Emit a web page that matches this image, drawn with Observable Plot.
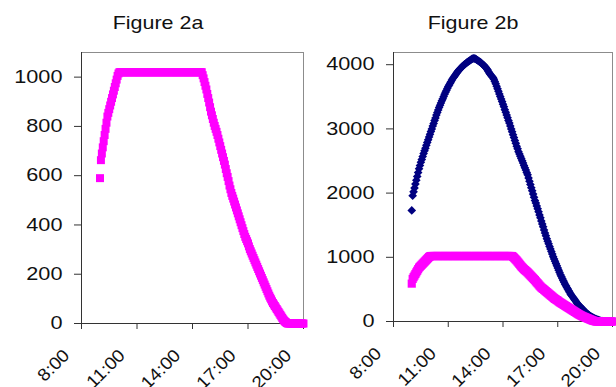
<!DOCTYPE html>
<html>
<head>
<meta charset="utf-8">
<script src="https://cdn.jsdelivr.net/npm/d3@7"></script>
<script src="https://cdn.jsdelivr.net/npm/@observablehq/plot@0.6"></script>
<style>
  html, body { margin: 0; padding: 0; background: #fff; }
  #wrap { position: relative; width: 616px; height: 387px; overflow: hidden; background: #fff; font-family: "Liberation Sans", Arial, sans-serif; }
  .panel { position: absolute; top: 0; }
  .title { position: absolute; top: 13.8px; font-size: 18.5px; line-height: 18.5px; color: #111; white-space: nowrap; transform: translateX(-50%) scaleX(1.16); }
</style>
</head>
<body>
<div id="wrap">
  <div id="a" class="panel" style="left:0px"></div>
  <div id="b" class="panel" style="left:306px"></div>
  <div class="title" style="left:158px">Figure 2a</div>
  <div class="title" style="left:473px">Figure 2b</div>
</div>
<script>
// ---- data: readings every 3 minutes, 9:00 – 20:00 ----
const times = [
  "9:00","9:03","9:06","9:09","9:12","9:15","9:18","9:21","9:24","9:27","9:30","9:33","9:36","9:39","9:42","9:45","9:48","9:51","9:54","9:57",
  "10:00","10:03","10:06","10:09","10:12","10:15","10:18","10:21","10:24","10:27","10:30","10:33","10:36","10:39","10:42","10:45","10:48","10:51","10:54","10:57",
  "11:00","11:03","11:06","11:09","11:12","11:15","11:18","11:21","11:24","11:27","11:30","11:33","11:36","11:39","11:42","11:45","11:48","11:51","11:54","11:57",
  "12:00","12:03","12:06","12:09","12:12","12:15","12:18","12:21","12:24","12:27","12:30","12:33","12:36","12:39","12:42","12:45","12:48","12:51","12:54","12:57",
  "13:00","13:03","13:06","13:09","13:12","13:15","13:18","13:21","13:24","13:27","13:30","13:33","13:36","13:39","13:42","13:45","13:48","13:51","13:54","13:57",
  "14:00","14:03","14:06","14:09","14:12","14:15","14:18","14:21","14:24","14:27","14:30","14:33","14:36","14:39","14:42","14:45","14:48","14:51","14:54","14:57",
  "15:00","15:03","15:06","15:09","15:12","15:15","15:18","15:21","15:24","15:27","15:30","15:33","15:36","15:39","15:42","15:45","15:48","15:51","15:54","15:57",
  "16:00","16:03","16:06","16:09","16:12","16:15","16:18","16:21","16:24","16:27","16:30","16:33","16:36","16:39","16:42","16:45","16:48","16:51","16:54","16:57",
  "17:00","17:03","17:06","17:09","17:12","17:15","17:18","17:21","17:24","17:27","17:30","17:33","17:36","17:39","17:42","17:45","17:48","17:51","17:54","17:57",
  "18:00","18:03","18:06","18:09","18:12","18:15","18:18","18:21","18:24","18:27","18:30","18:33","18:36","18:39","18:42","18:45","18:48","18:51","18:54","18:57",
  "19:00","19:03","19:06","19:09","19:12","19:15","19:18","19:21","19:24","19:27","19:30","19:33","19:36","19:39","19:42","19:45","19:48","19:51","19:54","19:57",
  "20:00"
];
const magenta = [
  590,663,690,715,740,765,790,815,840,855,870,885,900,915,930,945,960,975,990,1005,
  1015,1020,1020,1020,1020,1020,1020,1020,1020,1020,1020,1020,1020,1020,1020,1020,1020,1020,1020,1020,
  1020,1020,1020,1020,1020,1020,1020,1020,1020,1020,1020,1020,1020,1020,1020,1020,1020,1020,1020,1020,
  1020,1020,1020,1020,1020,1020,1020,1020,1020,1020,1020,1020,1020,1020,1020,1020,1020,1020,1020,1020,
  1020,1020,1020,1020,1020,1020,1020,1020,1020,1020,1020,1020,1020,1020,1020,1020,1020,1020,1020,1020,
  1020,1020,1020,1020,1020,1020,1020,1020,1020,1020,1020,1008,995,980,965,950,932,915,897,878,
  860,845,830,815,802,790,778,765,750,735,720,705,690,675,660,645,627,610,595,578,
  560,545,530,518,507,495,483,471,459,447,435,423,411,399,387,375,363,352,343,334,
  325,313,302,293,284,275,266,257,248,239,230,221,212,203,194,185,176,167,158,149,
  140,131,122,113,105,98,90,83,77,71,65,59,53,47,41,35,29,23,17,12,
  8,5,2,0,0,0,0,0,0,0,0,0,0,0,0,0,0,0,0,0,
  0
];
const navy = [
  1730,1960,2020,2080,2140,2200,2260,2320,2380,2430,2480,2525,2570,2615,2660,2700,2745,2790,2830,2875,
  2915,2960,3000,3045,3085,3130,3170,3215,3255,3295,3335,3370,3405,3440,3470,3505,3540,3570,3600,3630,
  3660,3685,3710,3735,3760,3785,3805,3825,3845,3865,3885,3905,3920,3935,3950,3965,3980,3995,4005,4015,
  4030,4040,4050,4060,4070,4080,4090,4095,4100,4095,4090,4080,4070,4060,4050,4040,4030,4015,4000,3990,
  3975,3960,3940,3920,3895,3870,3850,3830,3815,3800,3775,3740,3705,3665,3625,3585,3545,3505,3465,3425,
  3385,3345,3300,3260,3215,3175,3130,3090,3045,3000,2955,2910,2865,2820,2775,2730,2690,2645,2610,2575,
  2540,2505,2470,2430,2395,2360,2320,2285,2235,2185,2135,2085,2035,1985,1935,1885,1845,1800,1755,1710,
  1660,1615,1565,1520,1475,1425,1380,1335,1290,1250,1210,1170,1130,1090,1050,1010,975,940,905,870,
  835,800,765,730,700,670,640,610,580,555,530,505,480,455,430,410,390,370,350,330,
  310,290,270,255,240,225,210,195,180,165,150,138,125,113,102,92,82,73,65,57,
  50,43,37,31,26,21,16,12,8,5,2,0,0,0,0,0,0,0,0,0,
  0
];
const xTickLabels = ["8:00","11:00","14:00","17:00","20:00"];
const yTicksA = [0,200,400,600,800,1000];
const yTicksB = [0,1000,2000,3000,4000];

// ---- helpers ----
const toH = t => { const [h, m] = t.split(":").map(Number); return h + m / 60; };
const xTickVals = xTickLabels.map(toH);
const fmtH = h => xTickLabels[xTickVals.indexOf(h)];
const rowsM = times.map((t, i) => ({x: toH(t), y: magenta[i]}));
const rowsN = times.map((t, i) => ({x: toH(t), y: navy[i]}));

function stretch(svg, sel, s) {
  svg.querySelectorAll(sel).forEach(t => {
    const x = +t.getAttribute("x") || 0;
    const tr = t.getAttribute("transform") || "";
    t.setAttribute("transform", `${tr} translate(${x},0) scale(${s},1) translate(${-x},0)`);
  });
}

function panel({width, marginLeft, marginRight, marginBottom, yDomain, yTicks, series}) {
  const svg = Plot.plot({
    width, height: 387,
    marginLeft, marginRight, marginTop: 52, marginBottom,
    x: {domain: [8, 20]},
    y: {domain: yDomain},
    style: {fontFamily: "'Liberation Sans', Arial, sans-serif", fontSize: "17.5px", color: "#111", background: "transparent", overflow: "visible"},
    marks: [
      Plot.frame({stroke: "#8c8c8c"}),
      Plot.axisY({ticks: yTicks, tickSize: 7, tickPadding: 12, label: null, tickFormat: d => String(d), stroke: "#333"}),
      Plot.axisX({ticks: xTickVals, tickSize: 6, tickFormat: () => "", label: null, stroke: "#333"}),
      Plot.text(xTickVals, {x: d => d, text: fmtH, frameAnchor: "bottom", rotate: -45, textAnchor: "end", lineAnchor: "bottom", dx: -11, dy: 33, fill: "#111"}),
      Plot.ruleX([8], {stroke: "#333"}),
      Plot.ruleY([0], {stroke: "#333"}),
      ...series
    ]
  });
  stretch(svg, 'g[aria-label="y-axis tick label"] text', 1.24);
  stretch(svg, 'g[aria-label="text"] text', 1.08);
  return svg;
}

document.getElementById("a").append(panel({
  width: 306, marginLeft: 81, marginRight: 3, marginBottom: 64,
  yDomain: [0, 1100], yTicks: yTicksA,
  series: [Plot.dot(rowsM, {x: "x", y: "y", symbol: "square", r: 4.5, fill: "#ff00ff"})]
}));

document.getElementById("b").append(panel({
  width: 310, marginLeft: 87, marginRight: 4, marginBottom: 66,
  yDomain: [0, 4190], yTicks: yTicksB,
  series: [
    Plot.dot(rowsN, {x: "x", y: "y", symbol: "diamond2", r: 3.9, fill: "#000080"}),
    Plot.dot(rowsM, {x: "x", y: "y", symbol: "square", r: 4.6, fill: "#ff00ff"})
  ]
}));
</script>
</body>
</html>
